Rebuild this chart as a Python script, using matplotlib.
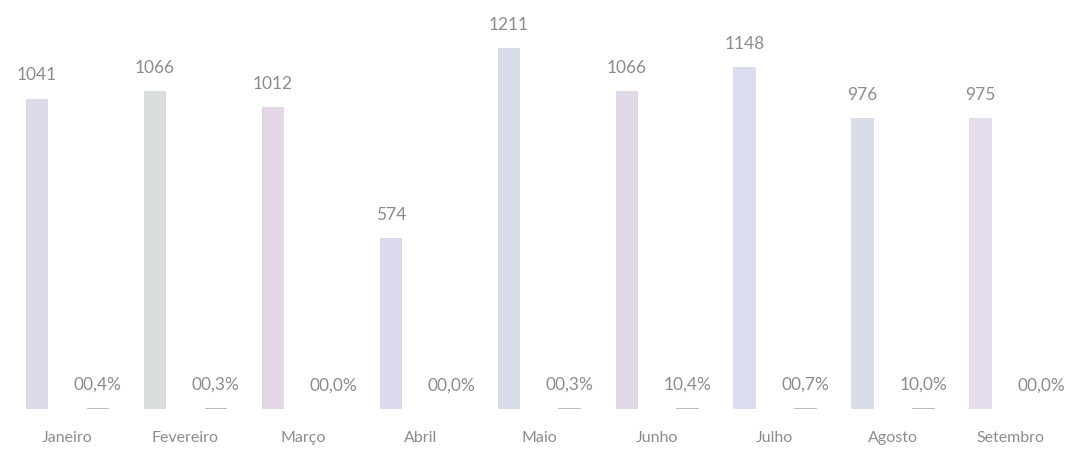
import matplotlib.pyplot as plt
import numpy as np

meses = ["Janeiro", "Fevereiro", "Março", "Abril", "Maio",
         "Junho", "Julho", "Agosto", "Setembro"]
totais = [1041, 1066, 1012, 574, 1211, 1066, 1148, 976, 975]
# segunda série: valores muito pequenos (quase zero)
pequenos = [4, 3, 0, 0, 3, 4, 4, 3, 0]
rotulos_pct = ["00,4%", "00,3%", "00,0%", "00,0%", "00,3%",
               "10,4%", "00,7%", "10,0%", "00,0%"]

cores = ["#dcdaea", "#dadedb", "#e3d7e6", "#ded8ec", "#d9dde9",
         "#e2d9e8", "#dcdcef", "#d9dde8", "#e5ddec"]
cinza = "#8c8c8c"

plt.rcParams['font.family'] = ['Lato', 'DejaVu Sans']

fig = plt.figure(figsize=(10.66, 4.53), dpi=100)
ax = fig.add_axes([0, 0.097, 1, 0.903])

x = np.arange(len(meses))
larg = 0.19
b1 = ax.bar(x - 0.255, totais, larg, color=cores, linewidth=0)
b2 = ax.bar(x + 0.26, pequenos, larg, color="#bdbdbd", linewidth=0)

ax.bar_label(b1, padding=11, color=cinza, fontsize=12.5)
ax.bar_label(b2, labels=rotulos_pct, padding=11, color=cinza, fontsize=12.5)

ax.set_xlim(-0.57, 8.47)
ax.set_ylim(0, 1372)
ax.set_xticks(x)
ax.set_xticklabels(meses, color=cinza, fontsize=11.5)
ax.tick_params(axis='x', length=0, pad=16)
ax.set_yticks([])
for s in ax.spines.values():
    s.set_visible(False)

fig.savefig("out.png", dpi=100)
